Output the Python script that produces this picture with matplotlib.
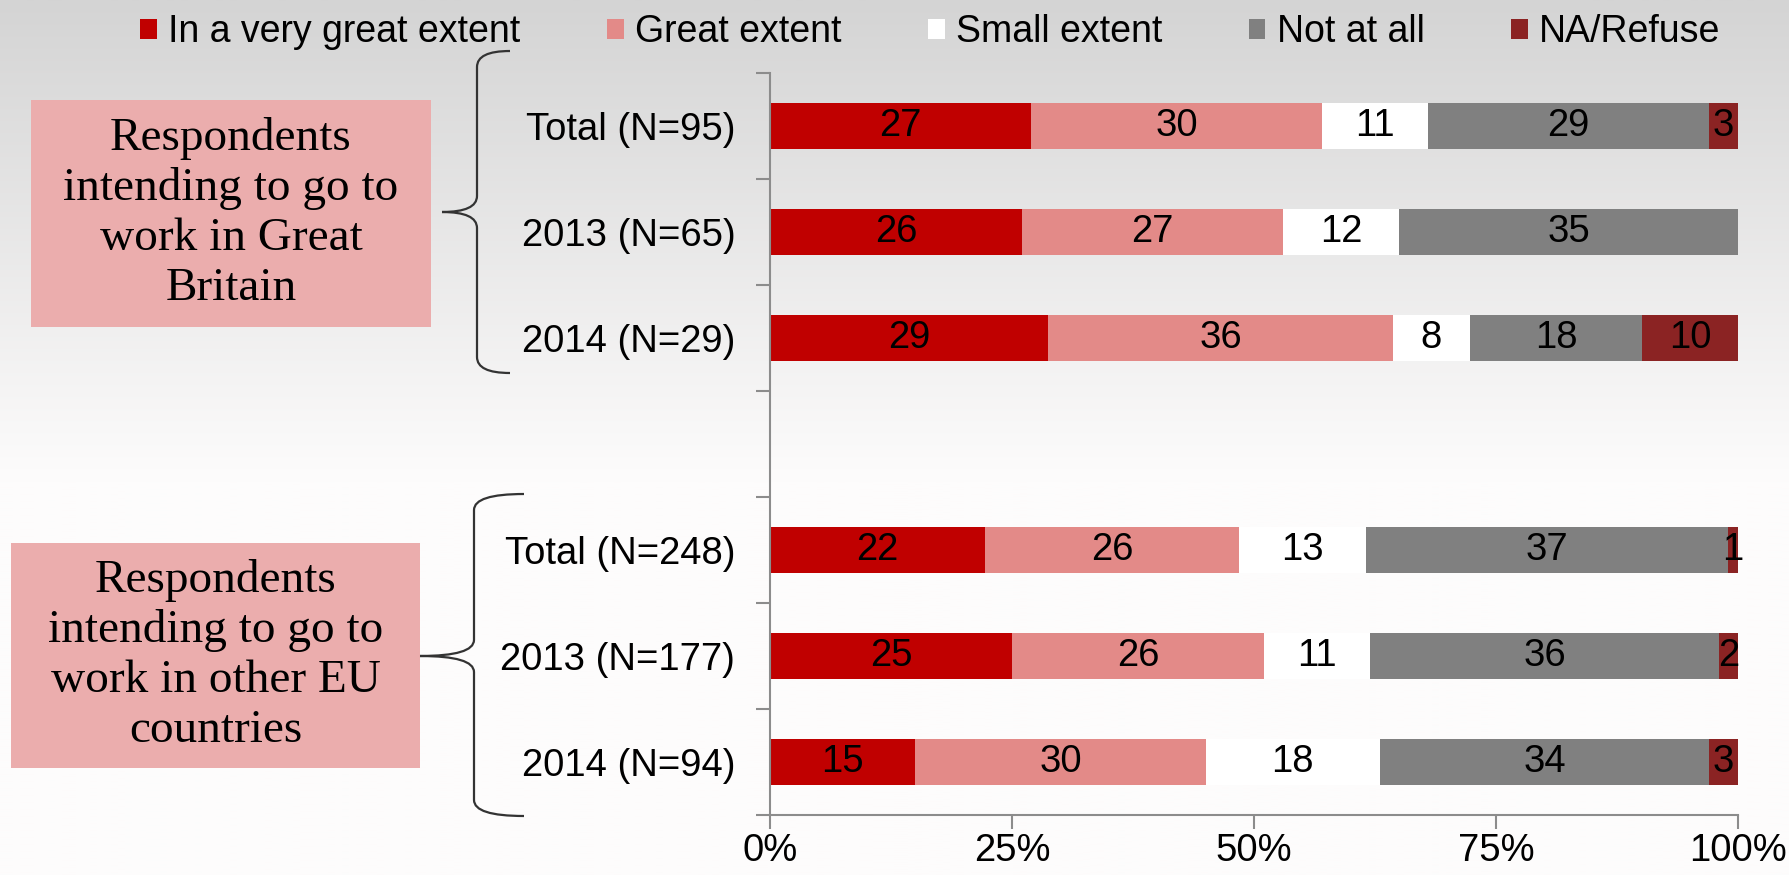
import numpy as np
import matplotlib
matplotlib.use("Agg")
import matplotlib.pyplot as plt
from matplotlib.patches import Patch, Rectangle, PathPatch
from matplotlib.path import Path

# --- data ---
categories = ["Total (N=95)", "2013 (N=65)", "2014 (N=29)", "",
              "Total (N=248)", "2013 (N=177)", "2014 (N=94)"]
series_names = ["In a very great extent", "Great extent", "Small extent",
                "Not at all", "NA/Refuse"]
very_great = [27, 26, 29, 0, 22, 25, 15]
great = [30, 27, 36, 0, 26, 26, 30]
small = [11, 12, 8, 0, 13, 11, 18]
not_at_all = [29, 35, 18, 0, 37, 36, 34]
na_refuse = [3, 0, 10, 0, 1, 2, 3]
group_labels = ["Respondents\nintending to go to\nwork in Great\nBritain",
                "Respondents\nintending to go to\nwork in other EU\ncountries"]
x_ticks = [0, 25, 50, 75, 100]

colors = ["#C00000", "#E38A88", "#FFFFFF", "#808080", "#8B2323"]

plt.rcParams["font.family"] = ["Liberation Sans", "DejaVu Sans"]
FS = 27.5

W, H = 1789, 875
fig = plt.figure(figsize=(W / 100, H / 100), dpi=100)

# background gradient + annotation layer in pixel coords
bg = fig.add_axes([0, 0, 1, 1], zorder=0)
g = np.clip(np.linspace(0, 1, 500) / 0.55, 0, 1)
r = 212 + (253 - 212) * g
img = np.stack([r, r - 1 * g, r - 1 * g], axis=-1)[:, None, :] / 255
bg.imshow(img, extent=[0, W, H, 0], aspect="auto", zorder=0)
bg.set_xlim(0, W)
bg.set_ylim(H, 0)
bg.axis("off")

# main chart
ax = fig.add_axes([770 / W, 1 - 815 / H, (1738 - 770) / W, (815 - 73) / H], zorder=1)
ax.set_facecolor("none")
data = np.array([very_great, great, small, not_at_all, na_refuse], dtype=float)
totals = data.sum(axis=0)
totals[totals == 0] = 1
pct = data / totals * 100
y = np.arange(len(categories))
left = np.zeros(len(categories))
for i, name in enumerate(series_names):
    ax.barh(y, pct[i], left=left, height=0.435, color=colors[i], label=name, zorder=2)
    for j in range(len(categories)):
        if data[i, j] > 0:
            ax.text(left[j] + pct[i, j] / 2, y[j], f"{int(data[i, j])}",
                    ha="center", va="center", fontsize=FS, color="black", zorder=3)
    left += pct[i]

ax.set_xlim(0, 100)
ax.set_ylim(len(categories) - 0.5, -0.5)
ax.set_yticks(y)
ax.set_yticklabels(categories, fontsize=FS)
ax.set_yticks(np.arange(-0.5, len(categories)), minor=True)
ax.tick_params(axis="y", which="major", length=0, pad=25)
ax.tick_params(axis="y", which="minor", length=10, width=1.5, color="#8C8C8C")
ax.set_xticks(x_ticks)
ax.set_xticklabels([f"{v}%" for v in x_ticks], fontsize=FS)
ax.tick_params(axis="x", length=10, width=1.5, color="#8C8C8C", pad=3)
for s in ["top", "right"]:
    ax.spines[s].set_visible(False)
for s in ["left", "bottom"]:
    ax.spines[s].set_color("#8C8C8C")
    ax.spines[s].set_linewidth(1.5)

# legend
handles = [Patch(facecolor=c, edgecolor="none") for c in colors]
fig.legend(handles, series_names, loc="center", bbox_to_anchor=(0.52, 0.963), ncol=5,
           frameon=False, fontsize=27, handlelength=0.45, handleheight=0.45,
           handletextpad=0.3, columnspacing=2.3)

# group boxes
boxes = [(31, 100, 400, 227), (11, 543, 409, 225)]
for (bx, by, bw, bh), lab in zip(boxes, group_labels):
    bg.add_patch(Rectangle((bx, by), bw, bh, facecolor="#EBADAD", edgecolor="none", zorder=1))
    bg.text(bx + bw / 2, by + bh / 2, lab, ha="center", va="center", fontsize=34,
            family=["Liberation Serif", "DejaVu Serif"], linespacing=1.22, zorder=2)


def brace(x_tip, x_mid, x_end, y_top, y_tip, y_bot, r=16):
    verts = [(x_end, y_top), (x_mid, y_top), (x_mid, y_top + r),
             (x_mid, y_tip - r),
             (x_mid, y_tip), (x_tip, y_tip),
             (x_mid, y_tip), (x_mid, y_tip + r),
             (x_mid, y_bot - r),
             (x_mid, y_bot), (x_end, y_bot)]
    codes = [Path.MOVETO, Path.CURVE3, Path.CURVE3, Path.LINETO,
             Path.CURVE3, Path.CURVE3, Path.CURVE3, Path.CURVE3,
             Path.LINETO, Path.CURVE3, Path.CURVE3]
    bg.add_patch(PathPatch(Path(verts, codes), facecolor="none", edgecolor="#333333",
                           lw=1.6, zorder=2))


brace(442, 477, 510, 51, 212, 373)
brace(420, 474, 524, 494, 656, 816)

fig.savefig("out.png", dpi=100)
